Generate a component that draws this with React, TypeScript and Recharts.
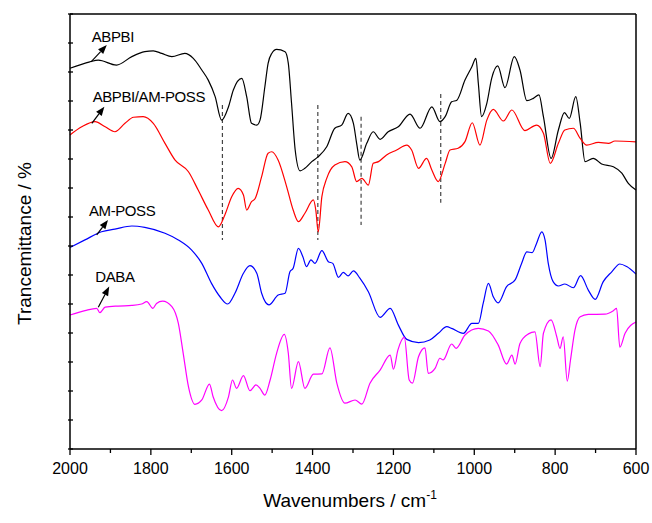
import React from 'react';
import { LineChart, Line, XAxis, YAxis, ReferenceLine, ReferenceDot } from 'recharts';

const FONT = '"Liberation Sans", Arial, Helvetica, sans-serif';

// [wavenumber cm-1, transmittance (offset, arbitrary units)]
const abpbi: [number, number][] = [
  [2000, 131.3], [1951, 133.5], [1930, 134.1], [1885, 132.4], [1847, 135.3], [1815, 137.0],
  [1794, 137.3], [1773, 136.4], [1748, 135.3], [1716, 136.4], [1695, 134.7], [1674, 130.7],
  [1658, 127.2], [1641, 121.5], [1625, 113.4], [1608, 118.0], [1596, 123.8], [1575, 127.8],
  [1563, 121.5], [1551, 112.3], [1538, 111.7], [1530, 113.4], [1518, 124.9], [1510, 133.0],
  [1501, 136.4], [1489, 137.8], [1468, 137.0], [1460, 133.0], [1452, 119.2], [1443, 103.1],
  [1431, 95.9], [1419, 96.8], [1402, 99.1], [1386, 100.8], [1365, 104.2], [1345, 110.6],
  [1328, 111.7], [1312, 115.7], [1299, 112.3], [1291, 105.4], [1283, 99.6], [1266, 105.4],
  [1250, 109.4], [1233, 106.8], [1213, 109.4], [1188, 111.1], [1159, 115.5], [1134, 110.6],
  [1105, 118.0], [1085, 112.9], [1072, 114.6], [1056, 119.7], [1043, 120.3], [1023, 127.2],
  [1006, 131.8], [996, 134.7], [990, 126.1], [982, 114.6], [969, 119.2], [957, 127.8],
  [942, 132.1], [924, 124.6], [901, 135.3], [887, 130.7], [870, 120.1], [854, 120.9],
  [840, 122.1], [829, 114.6], [810, 100.2], [792, 110.0], [777, 116.0], [765, 114.0],
  [749, 121.5], [738, 112.3], [726, 99.1], [706, 100.2], [685, 98.3], [656, 97.3],
  [635, 95.1], [619, 91.6], [600, 89.3],
];

const abpbiPoss: [number, number][] = [
  [2000, 108.3], [1971, 111.1], [1938, 112.9], [1913, 111.1], [1889, 109.4], [1864, 112.3],
  [1843, 114.4], [1819, 114.6], [1794, 112.3], [1765, 105.4], [1740, 99.6], [1707, 95.6],
  [1683, 89.3], [1658, 82.4], [1633, 76.6], [1617, 80.7], [1600, 87.0], [1584, 89.9],
  [1571, 87.6], [1563, 82.4], [1551, 85.3], [1542, 86.4], [1526, 93.9], [1510, 102.0],
  [1501, 102.5], [1485, 99.6], [1464, 90.4], [1448, 82.4], [1435, 78.4], [1419, 81.3],
  [1398, 85.9], [1392, 82.4], [1386, 74.9], [1377, 87.0], [1365, 93.3], [1345, 97.9],
  [1320, 99.1], [1303, 97.3], [1291, 92.2], [1278, 93.3], [1262, 91.0], [1250, 98.5],
  [1237, 99.1], [1217, 101.4], [1192, 103.1], [1167, 104.8], [1155, 103.1], [1138, 96.8],
  [1118, 100.2], [1105, 96.2], [1089, 92.2], [1072, 98.5], [1060, 103.1], [1040, 103.7],
  [1023, 106.0], [1005, 112.5], [986, 104.8], [969, 113.4], [953, 117.1], [928, 113.1],
  [907, 116.9], [875, 109.8], [846, 111.7], [829, 108.9], [812, 98.5], [792, 105.4],
  [776, 110.0], [755, 110.6], [738, 107.1], [722, 104.8], [693, 105.7], [668, 105.4],
  [652, 106.2], [600, 105.9],
];

const amPoss: [number, number][] = [
  [2000, 69.5], [1963, 72.1], [1922, 74.9], [1889, 75.8], [1847, 76.9], [1815, 76.4],
  [1765, 74.4], [1732, 72.1], [1699, 68.6], [1674, 64.0], [1650, 57.1], [1629, 52.5],
  [1610, 50.0], [1592, 53.7], [1571, 60.6], [1555, 63.2], [1538, 60.6], [1526, 53.7],
  [1508, 49.7], [1485, 53.1], [1468, 53.7], [1456, 61.1], [1448, 62.3], [1435, 69.2],
  [1424, 66.3], [1415, 62.9], [1404, 65.2], [1394, 64.0], [1377, 68.4], [1361, 64.6],
  [1350, 64.0], [1336, 59.2], [1324, 60.9], [1312, 59.7], [1299, 61.4], [1283, 58.9],
  [1262, 54.2], [1233, 45.4], [1208, 48.5], [1188, 42.8], [1167, 37.8], [1138, 36.7],
  [1110, 37.6], [1089, 39.9], [1068, 42.2], [1056, 41.6], [1027, 39.9], [1006, 43.3],
  [990, 43.3], [978, 50.2], [965, 57.1], [953, 52.5], [941, 50.4], [920, 56.0],
  [899, 58.3], [883, 64.0], [870, 68.0], [857, 67.7], [846, 70.9], [833, 74.9],
  [825, 72.1], [817, 64.0], [805, 57.7], [792, 56.2], [776, 56.9], [755, 55.6],
  [737, 59.8], [718, 54.8], [701, 51.6], [681, 57.7], [660, 61.1], [640, 63.8],
  [623, 62.9], [600, 60.3],
];

const daba: [number, number][] = [
  [2000, 46.2], [1963, 47.7], [1934, 48.5], [1926, 47.0], [1913, 48.9], [1881, 49.3],
  [1847, 49.5], [1823, 50.0], [1810, 50.8], [1795, 48.5], [1786, 50.2], [1771, 51.0],
  [1748, 49.1], [1732, 43.3], [1720, 33.0], [1707, 21.5], [1691, 15.4], [1674, 16.9],
  [1655, 22.4], [1646, 18.0], [1625, 13.2], [1608, 18.0], [1598, 23.8], [1588, 20.9],
  [1571, 25.3], [1555, 20.1], [1540, 22.1], [1530, 20.9], [1518, 18.6], [1505, 23.8],
  [1489, 33.0], [1470, 39.5], [1460, 33.0], [1452, 20.9], [1435, 30.1], [1419, 20.9],
  [1398, 25.8], [1377, 25.9], [1357, 34.9], [1340, 22.7], [1320, 15.8], [1295, 16.9],
  [1278, 15.5], [1258, 22.7], [1233, 27.2], [1208, 32.4], [1200, 27.5], [1189, 34.1],
  [1173, 38.5], [1161, 23.8], [1153, 22.7], [1138, 31.8], [1122, 34.9], [1114, 26.1],
  [1097, 27.8], [1085, 31.3], [1077, 30.7], [1056, 36.2], [1045, 34.7], [1023, 39.3],
  [990, 41.6], [965, 40.7], [941, 35.9], [920, 29.3], [907, 32.4], [899, 29.3],
  [887, 36.4], [866, 39.7], [850, 40.4], [837, 28.4], [829, 39.9], [810, 44.5],
  [796, 38.7], [788, 34.7], [780, 38.7], [770, 23.4], [762, 30.7], [751, 41.0],
  [738, 45.6], [718, 46.4], [677, 46.5], [656, 47.7], [648, 48.5], [640, 35.1],
  [627, 39.9], [600, 43.8],
];

const series = [
  { name: 'ABPBI', data: abpbi, color: '#000000' },
  { name: 'ABPBI/AM-POSS', data: abpbiPoss, color: '#ff0000' },
  { name: 'AM-POSS', data: amPoss, color: '#0000ff' },
  { name: 'DABA', data: daba, color: '#ff00ff' },
];

// dashed guides: wavenumber, bottom and top of the segment
const guides = [
  { w: 1623, lo: 72.1, hi: 118.6 },
  { w: 1387, lo: 72.1, hi: 118.6 },
  { w: 1280, lo: 77.2, hi: 114.6 },
  { w: 1083, lo: 84.9, hi: 122.4 },
];

// curve names with their arrows (text centre, arrow tail, arrow head)
const tags = [
  { text: 'ABPBI', w: 1894, t: 142.4, from: [1948, 133.5], to: [1909, 139.3] },
  { text: 'ABPBI/AM-POSS', w: 1805, t: 121.7, from: [1946, 112.3], to: [1915, 118.0] },
  { text: 'AM-POSS', w: 1871, t: 82.1, from: [1934, 73.8], to: [1906, 79.0] },
  { text: 'DABA', w: 1889, t: 59.5, from: [1930, 48.9], to: [1903, 56.0] },
];

const bottomTicks = [2000, 1900, 1800, 1700, 1600, 1500, 1400, 1300, 1200, 1100, 1000, 900, 800, 700, 600];
const topTicks = [2000, 1860, 1720, 1580, 1440, 1300, 1160, 1020, 880, 740, 600];
const leftTicks = [0, 10, 20, 30, 40, 50, 60, 70, 80, 90, 100, 110, 120, 130, 140, 150];
const rightTicks = [0, 15, 30, 45, 60, 75, 90, 105, 120, 135, 150];

const toPoints = (d: [number, number][]) => d.map(([w, t]) => ({ w, t }));

const BottomTick = (p: any) => {
  const v = p.payload.value;
  const major = v % 200 === 0;
  return (
    <g>
      <line x1={p.x} y1={p.y} x2={p.x} y2={p.y + (major ? 6 : 4)} stroke="#000" strokeWidth={1.3} />
      {major && (
        <text x={p.x} y={p.y + 25} textAnchor="middle" fontSize={16} fontFamily={FONT} fill="#000">
          {v}
        </text>
      )}
    </g>
  );
};

// inward tick marks for the frame axes
const TopTick = (p: any) => <line x1={p.x} y1={p.y} x2={p.x} y2={p.y + 4} stroke="#000" strokeWidth={1.3} />;
const LeftTick = (p: any) => <line x1={p.x - 2} y1={p.y} x2={p.x + 3} y2={p.y} stroke="#000" strokeWidth={1.3} />;
const RightTick = (p: any) => <line x1={p.x} y1={p.y} x2={p.x - 4} y2={p.y} stroke="#000" strokeWidth={1.3} />;

const Arrow = (p: any) => {
  const { x1, y1, x2, y2 } = p;
  const len = Math.hypot(x2 - x1, y2 - y1) || 1;
  const ux = (x2 - x1) / len;
  const uy = (y2 - y1) / len;
  const bx = x2 - ux * 9;
  const by = y2 - uy * 9;
  return (
    <g>
      <line x1={x1} y1={y1} x2={bx} y2={by} stroke="#000" strokeWidth={1.2} />
      <polygon
        points={`${x2},${y2} ${bx - uy * 3.5},${by + ux * 3.5} ${bx + uy * 3.5},${by - ux * 3.5}`}
        fill="#000"
      />
    </g>
  );
};

const tagText = (text: string) => (p: any) => (
  <text
    x={p.cx}
    y={p.cy}
    textAnchor="middle"
    dominantBaseline="central"
    fontSize={15}
    letterSpacing={-0.4}
    fontFamily={FONT}
    fill="#000"
  >
    {text}
  </text>
);

const YTitle = (p: any) => {
  const vb = p.viewBox;
  const x = vb.x + 24;
  const y = vb.y + vb.height / 2 + 12;
  return (
    <text x={x} y={y} transform={`rotate(-90 ${x} ${y})`} textAnchor="middle" dominantBaseline="central"
      fontSize={19} fontFamily={FONT} fill="#000">
      Trancemittance / %
    </text>
  );
};

const XTitle = (p: any) => {
  const vb = p.viewBox;
  return (
    <text x={vb.x + vb.width / 2 - 3} y={vb.y + 58} textAnchor="middle" fontSize={19} fontFamily={FONT} fill="#000">
      Wavenumbers / cm<tspan fontSize={12} dy={-8}>-1</tspan>
    </text>
  );
};

const frame = { stroke: '#000', strokeWidth: 1.5 };

export default function App() {
  return (
    <div style={{ position: 'absolute', left: 0, top: 0, background: '#fff' }}>
      <LineChart width={652} height={523} margin={{ top: 0, right: 0, bottom: 0, left: 0 }}>
        <XAxis
          xAxisId="b"
          dataKey="w"
          type="number"
          domain={[600, 2000]}
          reversed
          ticks={bottomTicks}
          interval={0}
          height={74}
          tickLine={false}
          tickSize={0}
          tickMargin={0}
          tick={<BottomTick />}
          axisLine={frame}
          label={{ content: <XTitle /> }}
        />
        <XAxis
          xAxisId="t"
          orientation="top"
          dataKey="w"
          type="number"
          domain={[600, 2000]}
          reversed
          ticks={topTicks}
          interval={0}
          height={14}
          tickLine={false}
          tickSize={0}
          tickMargin={0}
          tick={<TopTick />}
          axisLine={frame}
        />
        <YAxis
          yAxisId="l"
          type="number"
          domain={[0, 150]}
          ticks={leftTicks}
          interval={0}
          width={70}
          tickLine={false}
          tickSize={0}
          tickMargin={0}
          tick={<LeftTick />}
          axisLine={frame}
          label={{ content: <YTitle /> }}
        />
        <YAxis
          yAxisId="r"
          orientation="right"
          type="number"
          domain={[0, 150]}
          ticks={rightTicks}
          interval={0}
          width={16}
          tickLine={false}
          tickSize={0}
          tickMargin={0}
          tick={<RightTick />}
          axisLine={frame}
        />
        {guides.map((g) => (
          <ReferenceLine
            key={g.w}
            xAxisId="b"
            yAxisId="l"
            segment={[{ x: g.w, y: g.hi }, { x: g.w, y: g.lo }]}
            stroke="#444"
            strokeWidth={1.2}
            strokeDasharray="4 3"
          />
        ))}
        {series.map((s) => (
          <Line
            key={s.name}
            xAxisId="b"
            yAxisId="l"
            data={toPoints(s.data)}
            dataKey="t"
            type="monotone"
            stroke={s.color}
            strokeWidth={1.2}
            dot={false}
            isAnimationActive={false}
          />
        ))}
        {tags.map((a) => (
          <ReferenceLine
            key={'arrow-' + a.text}
            xAxisId="b"
            yAxisId="l"
            segment={[{ x: a.from[0], y: a.from[1] }, { x: a.to[0], y: a.to[1] }]}
            shape={Arrow}
          />
        ))}
        {tags.map((a) => (
          <ReferenceDot
            key={'tag-' + a.text}
            xAxisId="b"
            yAxisId="l"
            x={a.w}
            y={a.t}
            r={0}
            shape={tagText(a.text)}
          />
        ))}
      </LineChart>
    </div>
  );
}
